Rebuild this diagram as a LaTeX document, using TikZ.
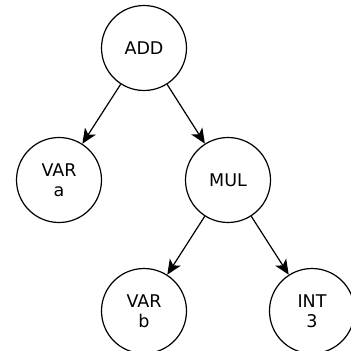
\documentclass[tikz,border=0pt]{standalone}
\usepackage{fontspec}
\setmainfont{DejaVu Sans}
\usetikzlibrary{arrows.meta}
\begin{document}
\begin{tikzpicture}[x=1pt,y=-1pt,
  treenode/.style={circle,draw,line width=1.2pt,minimum size=85pt,inner sep=0pt,
    align=center,font=\fontsize{17.5}{20}\selectfont},
  edge/.style={line width=1.2pt,-{Stealth[length=15pt,width=13pt,inset=4pt]}}]
  \useasboundingbox (0,0) rectangle (351,351);
  \clip (0,0) rectangle (351,351);
  \node[treenode] (add) at (144,48) {ADD};
  \node[treenode] (vara) at (59,180) {VAR\\a};
  \node[treenode] (mul) at (228,180) {MUL};
  \node[treenode] (varb) at (144,311) {VAR\\b};
  \node[treenode] (int) at (312,311) {INT\\3};
  \draw[edge] (add) -- (vara);
  \draw[edge] (add) -- (mul);
  \draw[edge] (mul) -- (varb);
  \draw[edge] (mul) -- (int);
\end{tikzpicture}
\end{document}
